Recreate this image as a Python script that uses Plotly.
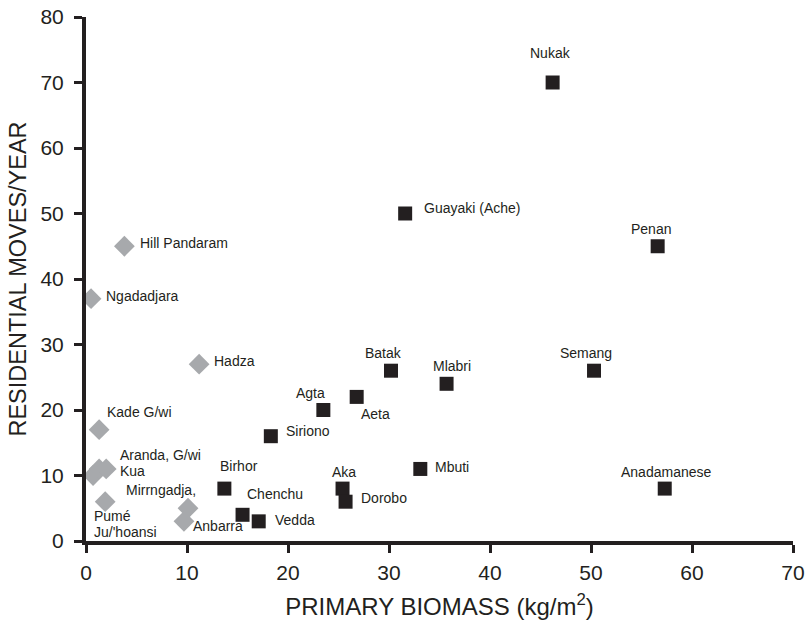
import plotly.graph_objects as go

# Forager groups: primary biomass (kg/m^2) vs residential moves per year
forest_names = ["Nukak", "Guayaki (Ache)", "Penan", "Batak", "Mlabri", "Semang",
                "Agta", "Aeta", "Siriono", "Mbuti", "Anadamanese", "Birhor",
                "Aka", "Dorobo", "Chenchu", "Vedda"]
forest_biomass = [46.2, 31.6, 56.6, 30.2, 35.7, 50.3,
                  23.5, 26.8, 18.3, 33.1, 57.3, 13.7,
                  25.4, 25.7, 15.5, 17.1]
forest_moves = [70, 50, 45, 26, 24, 26,
                20, 22, 16, 11, 8, 8,
                8, 6, 4, 3]

open_names = ["Hill Pandaram", "Ngadadjara", "Hadza", "Kade G/wi", "Ju/'hoansi",
              "Aranda", "G/wi Kua", "Pumé", "Mirrngadja", "Anbarra"]
open_biomass = [3.8, 0.5, 11.2, 1.3, 0.7, 1.3, 2.0, 1.9, 10.1, 9.7]
open_moves = [45, 37, 27, 17, 10, 11, 11, 6, 5, 3]

x_ticks = [0, 10, 20, 30, 40, 50, 60, 70]
y_ticks = [0, 10, 20, 30, 40, 50, 60, 70, 80]

INK = "#231f20"
GREY = "#a7a9ac"
FONT = "Liberation Sans, Arial, sans-serif"

# label text -> (point it belongs to, anchor, x offset px, y offset px)
label_layout = {
    "Nukak": ("Nukak", "center", -2, 30),
    "Guayaki (Ache)": ("Guayaki (Ache)", "left", 17, 6),
    "Penan": ("Penan", "center", -7, 17),
    "Batak": ("Batak", "center", -8, 18),
    "Mlabri": ("Mlabri", "center", 5, 18),
    "Semang": ("Semang", "center", -8, 18),
    "Agta": ("Agta", "center", -13, 17),
    "Aeta": ("Aeta", "center", 19, -17),
    "Siriono": ("Siriono", "left", 13, 5),
    "Mbuti": ("Mbuti", "left", 13, 2),
    "Anadamanese": ("Anadamanese", "center", 2, 17),
    "Birhor": ("Birhor", "center", 15, 23),
    "Aka": ("Aka", "center", 1, 17),
    "Dorobo": ("Dorobo", "left", 13, 4),
    "Chenchu": ("Chenchu", "left", 2, 21),
    "Vedda": ("Vedda", "left", 14, 1),
    "Hill Pandaram": ("Hill Pandaram", "left", 14, 3),
    "Ngadadjara": ("Ngadadjara", "left", 13, 3),
    "Hadza": ("Hadza", "left", 13, 3),
    "Kade G/wi": ("Kade G/wi", "left", 6, 18),
    "Aranda, G/wi": ("G/wi Kua", "left", 12, 14),
    "Kua": ("G/wi Kua", "left", 12, -2),
    "Mirrngadja,": ("Mirrngadja", "right", 10, 18),
    "Anbarra": ("Anbarra", "left", 7, -5),
    "Pumé": ("Pumé", "left", -13, -14),
    "Ju/'hoansi": ("Pumé", "left", -13, -30),
}

points = {}
for n, xv, yv in zip(forest_names, forest_biomass, forest_moves):
    points[n] = (xv, yv)
for n, xv, yv in zip(open_names, open_biomass, open_moves):
    points[n] = (xv, yv)

fig = go.Figure()
fig.add_trace(go.Scatter(
    x=open_biomass, y=open_moves, text=open_names, mode="markers",
    marker=dict(symbol="diamond", size=16, color=GREY, line=dict(width=0)),
    hovertemplate="%{text}<br>%{x} kg/m²<br>%{y} moves/yr<extra></extra>",
))
fig.add_trace(go.Scatter(
    x=forest_biomass, y=forest_moves, text=forest_names, mode="markers",
    marker=dict(symbol="square", size=14, color=INK, line=dict(width=0)),
    hovertemplate="%{text}<br>%{x} kg/m²<br>%{y} moves/yr<extra></extra>",
))

for txt, (pt, anchor, dx, dy) in label_layout.items():
    px, py = points[pt]
    fig.add_annotation(
        x=px, y=py, text=txt, showarrow=False,
        xanchor=anchor, yanchor="middle", xshift=dx, yshift=dy,
        font=dict(family=FONT, size=14, color=INK),
    )

axis_common = dict(
    showgrid=False, zeroline=False, showline=True, linecolor=INK, linewidth=4,
    ticks="outside", tickcolor=INK, tickwidth=3, ticklen=8, automargin=False,
    tickfont=dict(family=FONT, size=21, color=INK),
)

fig.update_layout(
    width=806, height=621,
    margin=dict(l=86, r=13, t=17, b=80),
    paper_bgcolor="white", plot_bgcolor="white",
    showlegend=False,
    xaxis=dict(
        range=[0, 70], tickvals=x_ticks, ticklabelstandoff=2,
        title=dict(text="PRIMARY BIOMASS (kg/m<sup>2</sup>)", standoff=16,
                   font=dict(family=FONT, size=24, color=INK)),
        **axis_common,
    ),
    yaxis=dict(
        range=[0, 80], tickvals=y_ticks, ticklabelstandoff=6,
        title=dict(text="RESIDENTIAL MOVES/YEAR", standoff=8,
                   font=dict(family=FONT, size=23.5, color=INK)),
        **axis_common,
    ),
)

fig.write_html("out.html")
